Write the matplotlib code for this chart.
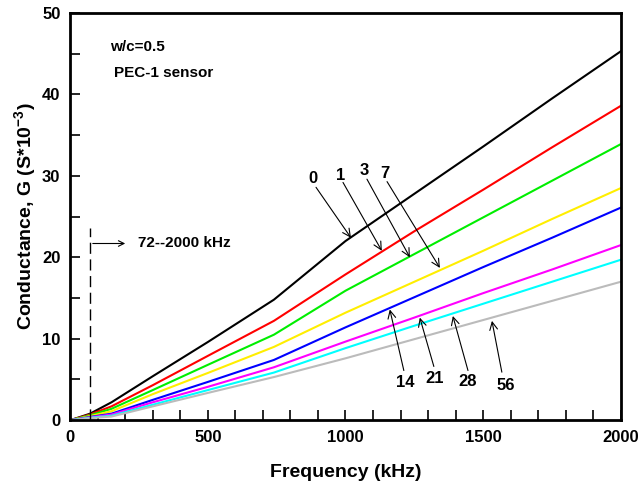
import numpy as np
import matplotlib.pyplot as plt
from matplotlib.ticker import MultipleLocator

plt.rcParams['font.family'] = ['Liberation Sans', 'DejaVu Sans']
plt.rcParams['font.weight'] = 'bold'
plt.rcParams['mathtext.fontset'] = 'custom'
plt.rcParams['mathtext.rm'] = 'Liberation Sans:bold'
plt.rcParams['mathtext.bf'] = 'Liberation Sans:bold'

# frequency (kHz) sample points
freq = [0, 72, 150, 300, 500, 740, 1000, 1250, 1500, 1750, 2000]

# conductance (S*10^-3) per aging time
g_0 = [0, 0.8, 2.2, 5.4, 9.6, 14.8, 22.0, 27.8, 33.6, 39.5, 45.3]
g_1 = [0, 0.7, 1.7, 4.3, 7.9, 12.2, 17.9, 23.2, 28.3, 33.5, 38.6]
g_3 = [0, 0.6, 1.4, 3.7, 6.8, 10.5, 15.9, 20.4, 24.9, 29.4, 33.9]
g_7 = [0, 0.5, 1.1, 3.2, 5.8, 9.0, 13.2, 17.0, 20.8, 24.7, 28.5]
g_14 = [0, 0.4, 0.8, 2.5, 4.7, 7.4, 11.4, 15.1, 18.8, 22.4, 26.1]
g_21 = [0, 0.35, 0.7, 2.2, 4.1, 6.5, 9.65, 12.6, 15.6, 18.5, 21.5]
g_28 = [0, 0.3, 0.55, 1.9, 3.7, 5.85, 8.85, 11.6, 14.3, 17.0, 19.7]
g_56 = [0, 0.25, 0.45, 1.7, 3.35, 5.3, 7.6, 9.95, 12.3, 14.65, 17.0]

labels = ['0', '1', '3', '7', '14', '21', '28', '56']
series = [g_0, g_1, g_3, g_7, g_14, g_21, g_28, g_56]
colors = ['black', '#ff0000', '#00ee00', '#ffee00', '#0000ff', '#ff00ff', '#00ffff', '#bbbbbb']

# label text position, arrow tail, arrow tip (data coords)
upper_notes = [('0', (882, 29.7), (893, 28.6), (1020, 22.4)),
               ('1', (984, 30.1), (991, 29.2), (1132, 20.8)),
               ('3', (1067, 30.7), (1078, 29.6), (1234, 20.0)),
               ('7', (1143, 30.3), (1151, 29.3), (1343, 18.7))]
lower_notes = [('14', (1216, 4.6), (1212, 6.1), (1161, 13.6)),
               ('21', (1325, 5.1), (1321, 6.6), (1270, 12.6)),
               ('28', (1445, 4.7), (1445, 6.1), (1390, 12.8)),
               ('56', (1583, 4.3), (1568, 5.9), (1532, 12.2))]

fig = plt.figure(figsize=(6.38, 4.83), dpi=100)
ax = fig.add_axes([0.11, 0.13, 0.863, 0.843])

for vals, c, lab in zip(series, colors, labels):
    ax.plot(freq, vals, color=c, lw=1.5, label=lab)

ax.set_xlim(0, 2000)
ax.set_ylim(0, 50)
ax.xaxis.set_major_locator(MultipleLocator(500))
ax.xaxis.set_minor_locator(MultipleLocator(100))
ax.yaxis.set_major_locator(MultipleLocator(10))
ax.yaxis.set_minor_locator(MultipleLocator(5))
ax.tick_params(which='both', direction='in', top=False, right=False,
               labelsize=12, width=1.2, pad=7, length=7)
for s in ax.spines.values():
    s.set_linewidth(2)

ax.set_xlabel('Frequency (kHz)', fontsize=14, fontweight='bold', labelpad=14)
ax.set_ylabel('Conductance, G (S*10$^{-3}$)', fontsize=14,
              fontweight='bold', labelpad=2)

ax.text(145, 45.8, 'w/c=0.5', fontsize=11, fontweight='bold', va='center')
ax.text(160, 42.6, 'PEC-1 sensor', fontsize=11, fontweight='bold', va='center')

# frequency range marker
ax.plot([72, 72], [0, 23.6], color='black', lw=1, ls=(0, (8, 4)))
ax.annotate('', xy=(210, 21.7), xytext=(72, 21.7),
            arrowprops=dict(arrowstyle='->', color='black', lw=0.8))
ax.text(245, 21.7, '72--2000 kHz', fontsize=11, fontweight='bold', va='center')

for txt, pos, tail, tip in upper_notes + lower_notes:
    ax.text(pos[0], pos[1], txt, fontsize=12, fontweight='bold',
            ha='center', va='center')
    ax.annotate('', xy=tip, xytext=tail,
                arrowprops=dict(arrowstyle='->', color='black', lw=0.8,
                                shrinkA=0, shrinkB=0, mutation_scale=14))

fig.savefig('out.png', dpi=100)
